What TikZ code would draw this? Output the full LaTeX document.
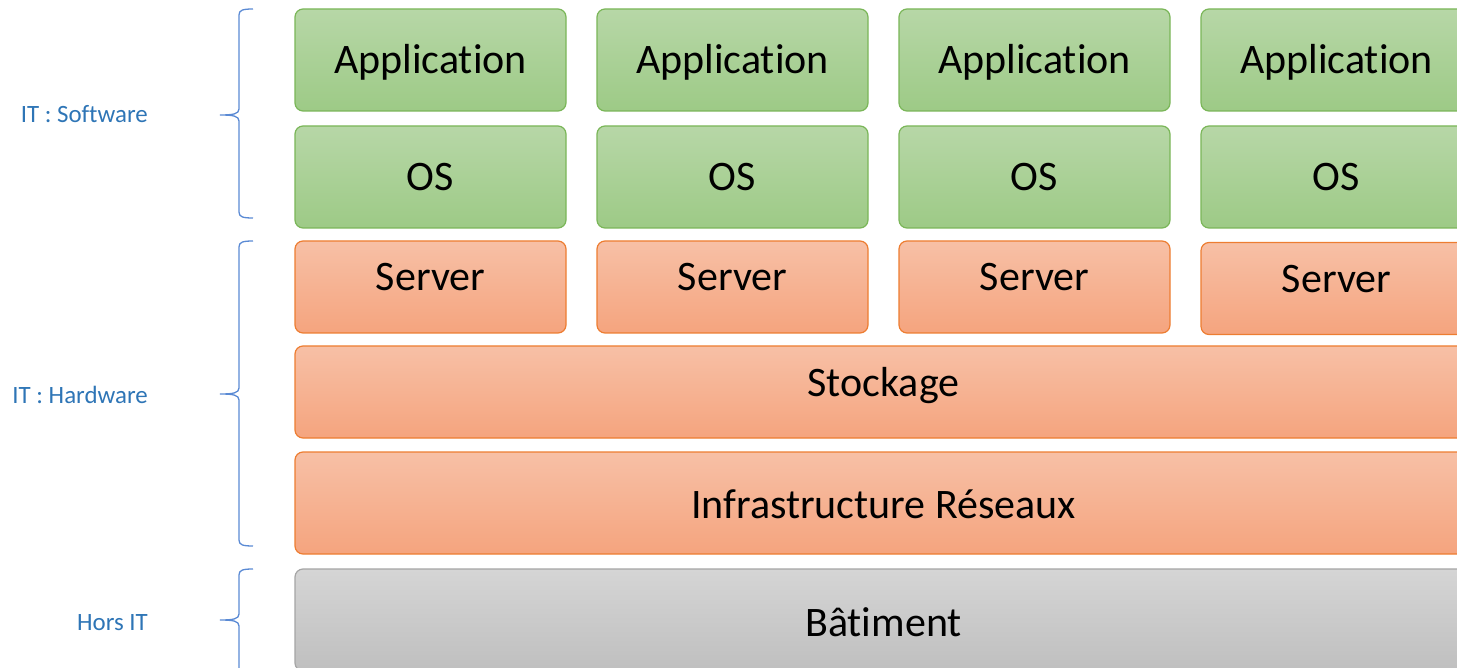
\documentclass[tikz,border=0pt]{standalone}
\usepackage{fontspec}
\setmainfont{Carlito}[Ligatures={NoCommon}]
\definecolor{gtop}{RGB}{183,215,167}
\definecolor{gbot}{RGB}{157,202,134}
\definecolor{gline}{RGB}{122,182,88}
\definecolor{otop}{RGB}{247,192,166}
\definecolor{obot}{RGB}{245,164,126}
\definecolor{oline}{RGB}{237,125,49}
\definecolor{ktop}{RGB}{213,213,213}
\definecolor{kbot}{RGB}{191,191,191}
\definecolor{kline}{RGB}{165,165,165}
\definecolor{lblue}{RGB}{46,117,182}
\definecolor{bblue}{RGB}{90,138,212}
\tikzset{
  box/.style={rounded corners=8pt, line width=1.2pt, inner sep=0pt, minimum width=271pt},
  app/.style={box, draw=gline, top color=gtop, bottom color=gbot, minimum height=102pt},
  srv/.style={box, draw=oline, top color=otop, bottom color=obot, minimum height=92pt},
  wide/.style={box, draw=oline, top color=otop, bottom color=obot, minimum width=1177pt},
  bat/.style={box, draw=kline, top color=ktop, bottom color=kbot, minimum width=1177pt, minimum height=102pt},
  txt/.style={anchor=base, inner sep=0pt, font=\fontsize{42}{50}\selectfont, text=black},
  lbl/.style={anchor=base east, inner sep=0pt, font=\fontsize{24.9}{30}\selectfont, text=lblue},
  brc/.style={draw=bblue, line width=1.3pt}
}
\newcommand{\ITbrace}[3]{%
  \path[brc] (253,#1) .. controls (243,#1) and (239,#1+1) .. (239,#1+6) -- (239,#2-6)
    .. controls (239,#2-1) and (233,#2) .. (220,#2)
    .. controls (233,#2) and (239,#2+1) .. (239,#2+6) -- (239,#3-6)
    .. controls (239,#3-1) and (243,#3) .. (253,#3);}
\begin{document}
\begin{tikzpicture}[x=1pt,y=-1pt]
\useasboundingbox (0,0) rectangle (1457,668);
\clip (0,0) rectangle (1457,668);
% columns
\foreach \i/\cx/\sy in {1/430.5/287, 2/732.5/287, 3/1034.5/287, 4/1336.5/288.5} {
  \node[app] (a\i) at (\cx,60) {};
  \node[app] (o\i) at (\cx,177) {};
  \node[srv] (s\i) at (\cx,\sy) {};
  \node[txt] (ta\i) at (\cx,74) {Application};
  \node[txt] (to\i) at (\cx,191) {OS};
}
\node[txt] (ts1) at (430.5,291) {Server};
\node[txt] (ts2) at (732.5,291) {Server};
\node[txt] (ts3) at (1034.5,291) {Server};
\node[txt] (ts4) at (1336.5,293) {Server};
\node[wide, minimum height=92pt] (stock) at (883.5,392) {};
\node[txt] (tstock) at (883.5,396) {Stockage};
\node[wide, minimum height=102pt] (infra) at (883.5,503) {};
\node[txt] (tinfra) at (883.5,518) {Infrastructure Réseaux};
\node[bat] (bat) at (883.5,620) {};
\node[txt] (tbat) at (883.5,636) {Bâtiment};
% braces
\ITbrace{9}{115}{218}
\ITbrace{241}{394}{546}
\ITbrace{569}{620}{700}
% labels
\node[lbl] (lsw) at (148,123) {IT : Software};
\node[lbl] (lhw) at (148,403) {IT : Hardware};
\node[lbl] (lhi) at (148,630) {Hors IT};
\end{tikzpicture}
\end{document}
